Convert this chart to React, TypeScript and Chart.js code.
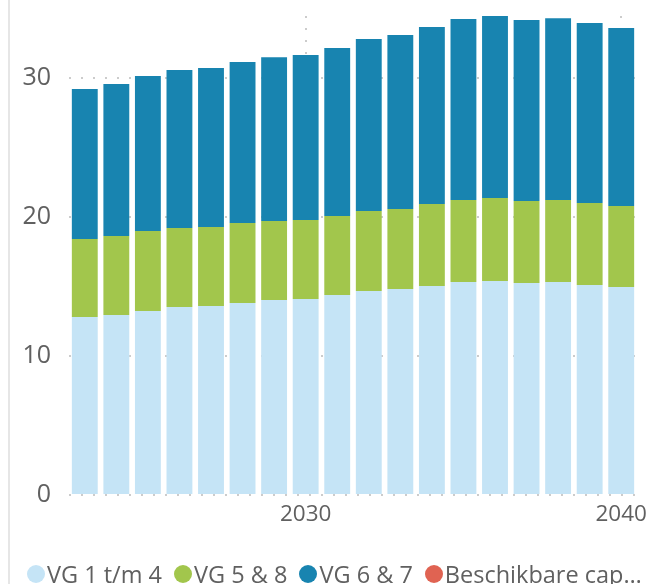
import React, { useEffect, useRef } from "react";
import { Chart, registerables } from "chart.js";

Chart.register(...registerables);

const years = [
  "2023", "2024", "2025", "2026", "2027", "2028", "2029", "2030", "2031",
  "2032", "2033", "2034", "2035", "2036", "2037", "2038", "2039", "2040",
];
const tickLabels = ["2030", "2040"];
const yTicks = [0, 10, 20, 30];

const vg1t4 = [
  12.81, 12.95, 13.24, 13.53, 13.6, 13.81, 14.03, 14.1, 14.39,
  14.68, 14.82, 15.04, 15.32, 15.4, 15.25, 15.32, 15.11, 14.96,
];
const vg5en8 = [
  5.61, 5.68, 5.75, 5.68, 5.68, 5.76, 5.68, 5.68, 5.68,
  5.75, 5.76, 5.9, 5.9, 5.97, 5.9, 5.9, 5.89, 5.83,
];
const vg6en7 = [
  10.78, 10.94, 11.15, 11.37, 11.44, 11.58, 11.79, 11.87, 12.09,
  12.37, 12.52, 12.73, 13.02, 13.09, 13.02, 13.08, 12.96, 12.81,
];
const capaciteit: (number | null)[] = years.map(() => null);

const seriesNames = ["VG 1 t/m 4", "VG 5 & 8", "VG 6 & 7", "Beschikbare capaciteit"];
const seriesColors = ["#c5e4f6", "#a2c64c", "#1884b0", "#e06352"];

const FONT = "'Open Sans', 'Liberation Sans', sans-serif";
const TEXT = "#606060";
const GRID = "#cccccc";

function shorten(s: string, n: number) {
  return s.length > n ? s.slice(0, n) + "…" : s;
}

export default function App() {
  const ref = useRef<HTMLCanvasElement | null>(null);

  useEffect(() => {
    if (!ref.current) return;
    const totals = years.map((_, i) => vg1t4[i] + vg5en8[i] + vg6en7[i]);
    const yMax = Math.max(...totals);
    const chart = new Chart(ref.current, {
      type: "bar",
      data: {
        labels: years,
        datasets: [
          { label: seriesNames[0], data: vg1t4, backgroundColor: seriesColors[0], stack: "s" },
          { label: seriesNames[1], data: vg5en8, backgroundColor: seriesColors[1], stack: "s" },
          { label: seriesNames[2], data: vg6en7, backgroundColor: seriesColors[2], stack: "s" },
          {
            type: "line",
            label: seriesNames[3],
            data: capaciteit,
            borderColor: seriesColors[3],
            backgroundColor: seriesColors[3],
            pointRadius: 0,
          } as any,
        ],
      },
      options: {
        animation: false,
        responsive: false,
        maintainAspectRatio: false,
        layout: { padding: { left: 0, right: 15, top: 16, bottom: 0 } },
        datasets: { bar: { categoryPercentage: 1, barPercentage: 0.82 } } as any,
        plugins: { legend: { display: false }, tooltip: { enabled: false } },
        scales: {
          x: {
            stacked: true,
            grid: {
              offset: false,
              drawTicks: false,
              lineWidth: 2,
              color: (ctx: any) =>
                ctx.tick && tickLabels.includes(String(ctx.tick.label)) ? GRID : "rgba(0,0,0,0)",
            },
            border: { display: false, dash: [2, 10] },
            ticks: {
              autoSkip: false,
              maxRotation: 0,
              padding: 6,
              color: TEXT,
              font: { family: FONT, size: 22.5 },
              callback: (_v: any, i: number) => (tickLabels.includes(years[i]) ? years[i] : ""),
            },
            afterFit: (scale: any) => {
              scale.height = 89;
              scale.paddingLeft = 0;
              scale.paddingRight = 0;
            },
          },
          y: {
            stacked: true,
            min: 0,
            max: yMax,
            grid: { drawTicks: false, lineWidth: 2, color: GRID },
            border: { display: false, dash: [2, 10] },
            ticks: {
              stepSize: 10,
              includeBounds: false,
              padding: 18,
              color: TEXT,
              font: { family: FONT, size: 25 },
              callback: (v: any) => (yTicks.includes(Number(v)) ? String(v) : ""),
            },
            afterFit: (scale: any) => {
              scale.width = 69;
              scale.paddingTop = 0;
              scale.paddingBottom = 0;
            },
          },
        },
      },
    });
    return () => chart.destroy();
  }, []);

  return (
    <div
      style={{
        position: "fixed",
        left: 0,
        top: 0,
        width: 652,
        height: 584,
        background: "#ffffff",
        overflow: "hidden",
      }}
    >
      <div
        style={{
          position: "absolute",
          left: 8,
          top: 0,
          width: 2,
          height: 584,
          background: "#e6e6e6",
        }}
      />
      <canvas
        ref={ref}
        width={652}
        height={584}
        style={{ position: "absolute", left: 0, top: 0, width: 652, height: 584 }}
      />
      <div
        style={{
          position: "absolute",
          left: 27,
          top: 564,
          height: 20,
          display: "flex",
          alignItems: "center",
          fontFamily: FONT,
          fontSize: 23.5,
          lineHeight: "20px",
          color: TEXT,
          whiteSpace: "nowrap",
        }}
      >
        {seriesNames.map((name, i) => (
          <div key={name} style={{ display: "flex", alignItems: "center", marginRight: 12 }}>
            <span
              style={{
                display: "inline-block",
                width: 18,
                height: 18,
                borderRadius: "50%",
                background: seriesColors[i],
                marginRight: 2,
              }}
            />
            <span>{shorten(name, 15)}</span>
          </div>
        ))}
      </div>
    </div>
  );
}
